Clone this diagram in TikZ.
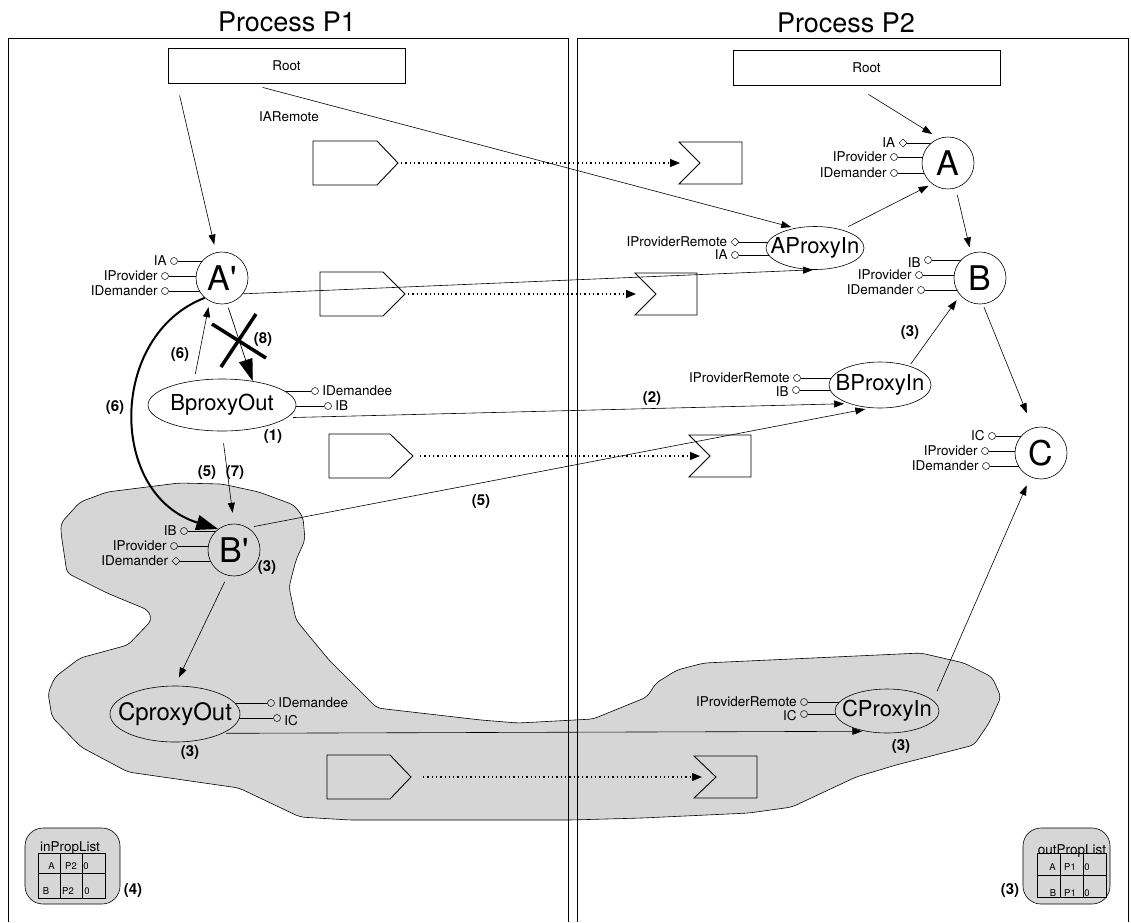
\documentclass[tikz,border=0pt]{standalone}
\usepackage{fontspec}
\setmainfont{TeX Gyre Heros}
\usetikzlibrary{arrows.meta,shapes.geometric}
\pgfdeclarelayer{blob}
\pgfdeclarelayer{ports}
\pgfsetlayers{blob,ports,main}
\definecolor{blobgray}{gray}{0.84}

% port with its label on the left / right
\newcommand\lport[5]{\node[#1, label={[plbl]left:#5}] (#2) at (#3,#4) {};}
\newcommand\rport[5]{\node[#1, label={[plbl]right:#5}] (#2) at (#3,#4) {};}
% stub from a port to the body of its component
\newcommand\stubl[2]{\draw[portln] (#1.east) -- (#1 -| #2.center);}
\newcommand\stubr[2]{\draw[portln] (#1.west) -- (#1 -| #2.center);}

\begin{document}
\begin{tikzpicture}[x=1pt,y=-1pt,
  lbl/.style={font=\fontsize{13.5}{15}\selectfont, inner sep=0.5pt},
  plbl/.style={font=\fontsize{13.5}{15}\selectfont, inner sep=0.5pt, label distance=3pt},
  num/.style={font=\bfseries\fontsize{15}{17}\selectfont, inner sep=0},
  ttl/.style={font=\fontsize{27}{30}\selectfont, inner sep=0},
  cell/.style={font=\fontsize{9.5}{10}\selectfont, inner sep=0},
  rootbox/.style={draw, line width=0.8pt, minimum width=237pt, minimum height=35pt, inner sep=0, font=\fontsize{13.5}{15}\selectfont},
  comp/.style={circle, draw, fill=white, minimum size=52pt, inner sep=0, line width=0.6pt, font=\fontsize{34}{34}\selectfont},
  prox/.style={ellipse, draw, fill=white, inner sep=0, line width=0.6pt, font=\fontsize{22}{22}\selectfont},
  portc/.style={circle, draw, inner sep=0, minimum size=7pt, line width=0.5pt},
  portd/.style={diamond, draw, inner sep=0, minimum size=8pt, line width=0.5pt},
  portln/.style={line width=0.6pt},
  arr/.style={-{Triangle[length=10pt,width=7pt]}, line width=0.6pt},
  bigarr/.style={-{Triangle[length=22pt,width=14pt]}, line width=0.7pt},
  dotarr/.style={-{Triangle[length=10pt,width=8pt]}, line width=1.3pt, dash pattern=on 1.3pt off 3pt},
  msg/.style={draw, line width=0.9pt, line join=miter},
  frame/.style={line width=0.8pt},
  plist/.style={draw, fill=blobgray, rounded corners=18pt, line width=0.6pt, minimum width=95pt, minimum height=76pt, inner sep=0}
]
\useasboundingbox (0,0) rectangle (1131,922);

% ---- the grey region spanning both processes ----
\begin{pgfonlayer}{blob}
\fill[blobgray, draw=black, line width=0.6pt, rounded corners=5pt]
  (107,492) -- (179,483) -- (222,484) -- (259,492) -- (294,505) -- (303,517)
  -- (305,540) -- (296,560) -- (289,587) -- (296,620) -- (329,660) -- (377,708)
  -- (481,720) -- (518,723) -- (593,719) -- (647,697) -- (656,683) -- (677,670)
  -- (704,663) -- (921,653) -- (964,663) -- (992,677) -- (1001,697) -- (989,723)
  -- (974,745) -- (896,765) -- (856,777) -- (792,807) -- (749,813) -- (642,818)
  -- (570,820) -- (350,820) -- (300,817) -- (239,788) -- (128,772) -- (81,747)
  -- (52,717) -- (48,693) -- (55,677) -- (80,658) -- (128,645) -- (152,620)
  -- (148,610) -- (107,593) -- (67,573) -- (61,533) -- (61,523) -- (80,502) -- cycle;
\end{pgfonlayer}

% ---- process frames and titles ----
\draw[frame] (8,922) -- (8,38) -- (568,38) -- (568,922);
\draw[frame] (577,922) -- (577,38) -- (1128,38) -- (1128,922);
\node[ttl] (t1) at (287,22) {Process P1};
\node[ttl] (t2) at (846,23) {Process P2};

% ---- roots ----
\node[rootbox] (RootL) at (286.5,65.5) {\raisebox{-4pt}{Root}};
\node[rootbox, minimum width=267pt] (RootR) at (866.5,67.5) {\raisebox{-4pt}{Root}};
\node[lbl] (iar) at (289,117) {IARemote};

% ---- components ----
\node[comp] (Ap) at (222,278) {A\textquotesingle};
\node[comp] (A)  at (948,163) {A};
\node[comp] (B)  at (980,278) {B};
\node[comp] (C)  at (1041,453) {C};
\node[comp, fill=blobgray] (Bp) at (234,550) {B\textquotesingle};

\node[prox, minimum width=98pt, minimum height=43pt] (AProxyIn) at (815,248) {\makebox[0pt]{AProxyIn}};
\node[prox, minimum width=102pt, minimum height=46pt] (BProxyIn) at (880,385) {\makebox[0pt]{BProxyIn}};
\node[prox, fill=blobgray, minimum width=104pt, minimum height=44pt] (CProxyIn) at (887,711) {\makebox[0pt]{CProxyIn}};
\node[prox, minimum width=148pt, minimum height=52pt] (BproxyOut) at (222,405) {\makebox[0pt]{BproxyOut}};
\node[prox, fill=blobgray, minimum width=130pt, minimum height=56pt, font=\fontsize{24}{24}\selectfont] (CproxyOut) at (175,714) {\makebox[0pt]{CproxyOut}};

% ---- interface ports ----
\lport{portc}{apIA}{174}{261}{IA}
\lport{portc}{apIP}{165}{276}{IProvider}
\lport{portc}{apID}{165}{291}{IDemander}

\lport{portd}{aIA}{903}{143}{IA}
\lport{portc}{aIP}{894}{157}{IProvider}
\lport{portc}{aID}{894}{173}{IDemander}

\lport{portd}{apiPR}{735}{242}{IProviderRemote}
\lport{portc}{apiIA}{735}{255}{IA}

\node[portc, label={[plbl, yshift=-3pt]left:IB}] (bIB) at (928,260) {};
\lport{portc}{bIP}{919}{275}{IProvider}
\lport{portc}{bID}{921}{290}{IDemander}

\lport{portc}{bpiPR}{797}{378}{IProviderRemote}
\node[portc, label={[plbl, yshift=-2pt]left:IB}] (bpiIB) at (796,390) {};

\lport{portc}{cIC}{992}{436}{IC}
\lport{portc}{cIP}{985}{451}{IProvider}
\lport{portc}{cID}{986}{466}{IDemander}

\lport{portc}{bpIB}{184}{531}{IB}
\lport{portc}{bpIP}{174}{546}{IProvider}
\lport{portd}{bpID}{176}{561}{IDemander}

\rport{portc}{boID}{315}{391}{IDemandee}
\rport{portc}{boIB}{328}{406}{IB}

\rport{portc}{coID}{271}{703}{IDemandee}
\node[portc, label={[plbl, yshift=-3pt]right:IC}] (coIC) at (277,718) {};

\lport{portc}{cpiPR}{804}{702}{IProviderRemote}
\node[portc, label={[plbl, yshift=-2pt]left:IC}] (cpiIC) at (804,714) {};

\begin{pgfonlayer}{ports}
\stubl{apIA}{Ap} \stubl{apIP}{Ap} \stubl{apID}{Ap}
\stubl{aIA}{A} \stubl{aIP}{A} \stubl{aID}{A}
\stubl{apiPR}{AProxyIn} \stubl{apiIA}{AProxyIn}
\stubl{bIB}{B} \stubl{bIP}{B} \stubl{bID}{B}
\stubl{bpiPR}{BProxyIn} \stubl{bpiIB}{BProxyIn}
\stubl{cIC}{C} \stubl{cIP}{C} \stubl{cID}{C}
\stubl{bpIB}{Bp} \stubl{bpIP}{Bp} \stubl{bpID}{Bp}
\stubr{boID}{BproxyOut} \stubr{boIB}{BproxyOut}
\stubr{coID}{CproxyOut} \stubr{coIC}{CproxyOut}
\stubl{cpiPR}{CProxyIn} \stubl{cpiIC}{CProxyIn}
\end{pgfonlayer}

% ---- messages between the processes ----
\draw[msg] (313,141) -- (377,141) -- (398,163) coordinate (s1) -- (377,185) -- (313,185) -- cycle;
\draw[msg] (679,142) -- (742,142) -- (742,184) -- (679,184) -- (700,163) coordinate (r1) -- cycle;
\draw[msg] (320,272) -- (383,272) -- (405,294) coordinate (s2) -- (383,316) -- (320,316) -- cycle;
\draw[msg] (635,273) -- (697,273) -- (697,315) -- (635,315) -- (656,294) coordinate (r2) -- cycle;
\draw[msg] (329,434) -- (390,434) -- (413,456) coordinate (s3) -- (390,478) -- (329,478) -- cycle;
\draw[msg] (689,435) -- (751,435) -- (751,477) -- (689,477) -- (710,456) coordinate (r3) -- cycle;
\draw[msg] (327,755) -- (390,755) -- (411,777) coordinate (s4) -- (390,799) -- (327,799) -- cycle;
\draw[msg] (694,756) -- (757,756) -- (757,798) -- (694,798) -- (716,777) coordinate (r4) -- cycle;

\draw[dotarr, shorten <=3pt, shorten >=20pt] (s1) -- (r1);
\draw[dotarr, shorten <=3pt, shorten >=20pt] (s2) -- (r2);
\draw[dotarr, shorten <=7pt, shorten >=10pt] (s3) -- (r3);
\draw[dotarr, shorten <=12pt, shorten >=14pt] (s4) -- (r4);

% ---- references ----
\draw[arr, shorten >=8pt] ([shift={(12,12)}]RootL.south west) -- (Ap);
\draw[arr, shorten >=4pt] ([shift={(95,4)}]RootL.south west) -- (AProxyIn.135);
\draw[arr, shorten >=8pt] ([shift={(2,9)}]RootR.south) -- (A.110);
\draw[arr, shorten <=7pt, shorten >=4pt] (AProxyIn.34) -- (A.233);
\draw[arr, shorten <=7pt, shorten >=6pt] (A.-73) -- (B.110);
\draw[arr] (Ap.-37) -- (AProxyIn.265);
\draw[arr, shorten <=2pt, shorten >=6pt] (BProxyIn.33) -- (B.221);
\draw[arr, shorten <=3pt, shorten >=16pt] (B.-84) -- (C.108);
\draw[arr, shorten <=10pt, shorten >=9pt] (CProxyIn.13) -- (C.246);
\draw[arr, shorten <=7pt, shorten >=6pt] (BproxyOut.139) -- (Ap.242);
\draw[bigarr, shorten <=4pt] (Ap.-79) -- (BproxyOut.38);
\draw[-{Triangle[length=22pt,width=15pt]}, line width=2pt]
  (Ap.229) .. controls (108,335) and (108,495) .. (Bp.127);
\draw[arr, shorten <=12pt, shorten >=11pt] (BproxyOut.south) -- (Bp.north);
\draw[arr, shorten <=6pt, shorten >=6pt] (Bp.58) -- (BProxyIn.249);
\draw[arr, shorten <=6pt, shorten >=5pt] (BproxyOut.-11) -- (BProxyIn.211);
\draw[arr, shorten <=7pt, shorten >=9pt] (Bp.-104) -- (CproxyOut.north);
\draw[arr, shorten <=3pt, shorten >=3pt] (CproxyOut.-22) -- (CProxyIn.223);

% cancelled reference
\draw[line width=3.5pt] (212,324) -- (266,358);
\draw[line width=3.5pt] (256,314) -- (221,367);

% ---- step numbers ----
\node[num] (n6a) at (180,355) {(6)};
\node[num] (n8)  at (263,340) {(8)};
\node[num] (n6b) at (115,408) {(6)};
\node[num] (n1)  at (273,437) {(1)};
\node[num] (n5a) at (207,473) {(5)};
\node[num] (n7)  at (235,473) {(7)};
\node[num] (n3a) at (267,568) {(3)};
\node[num] (n5b) at (481,502) {(5)};
\node[num] (n2)  at (652,399) {(2)};
\node[num] (n3b) at (910,333) {(3)};
\node[num] (n3c) at (190,753) {(3)};
\node[num] (n3d) at (901,747) {(3)};
\node[num] (n4)  at (133,891) {(4)};
\node[num] (n3e) at (1010,891) {(3)};

% ---- property lists ----
\node[plist] (inPL) at (72.5,866) {};
\draw[line width=0.6pt] (38,853) rectangle (105,898) (60,853) -- (60,898) (82,853) -- (82,898) (38,873) -- (105,873);
\node[lbl, anchor=base] (inT) at (70,851) {inPropList};
\node[cell] (i11) at (51.5,866) {A};
\node[cell] (i12) at (71,866) {P2};
\node[cell] (i13) at (86,866) {0};
\node[cell] (i21) at (46,891) {B};
\node[cell] (i22) at (68,891) {P2};
\node[cell] (i23) at (87,891) {0};

\node[plist, minimum width=87pt] (outPL) at (1066.5,866) {};
\draw[line width=0.6pt] (1037,853) rectangle (1106,897) (1060,853) -- (1060,897) (1083,853) -- (1083,897) (1037,875) -- (1106,875);
\node[lbl, anchor=base] (outT) at (1072,854) {outPropList};
\node[cell] (o11) at (1052.5,867) {A};
\node[cell] (o12) at (1070,867) {P1};
\node[cell] (o13) at (1087,867) {0};
\node[cell] (o21) at (1053,893) {B};
\node[cell] (o22) at (1070,893) {P1};
\node[cell] (o23) at (1087,893) {0};
\end{tikzpicture}
\end{document}
